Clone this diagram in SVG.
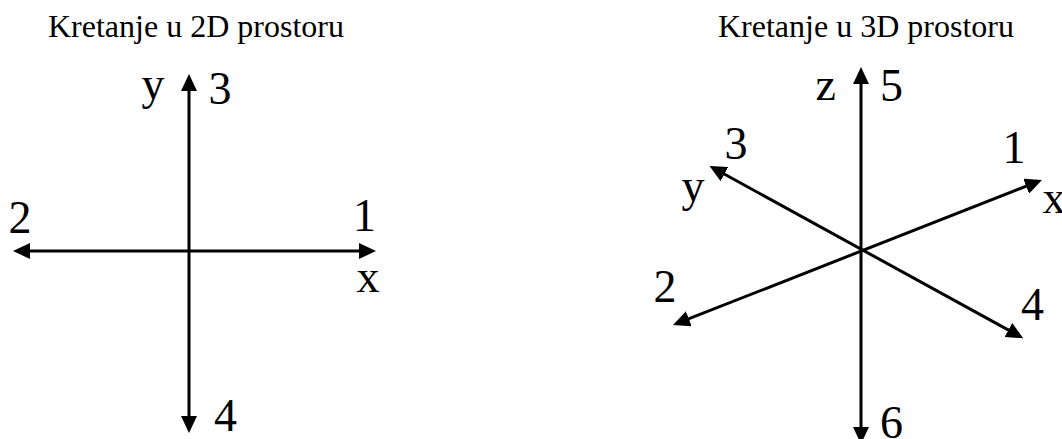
<svg xmlns="http://www.w3.org/2000/svg" width="1062" height="439" viewBox="0 0 1062 439">
  <style>
    .title { font-family: "Liberation Serif", "Times New Roman", serif; font-size: 32px; fill: #000; }
    .lbl { font-family: "Liberation Serif", "Times New Roman", serif; font-size: 46px; fill: #000; }
    .axis { stroke: #000; stroke-width: 3; fill: none; marker-start: url(#ah); marker-end: url(#ah); }
  </style>
  <defs>
    <marker id="ah" markerUnits="userSpaceOnUse" markerWidth="17" markerHeight="16" refX="8" refY="8" orient="auto-start-reverse" viewBox="0 0 17 16">
      <path d="M0,0 L17,8 L0,16 z" fill="#000"/>
    </marker>
  </defs>
  <rect width="1062" height="439" fill="#fff"/>

  <g id="titles">
    <text id="title-2d" class="title" x="48" y="37">Kretanje u 2D prostoru</text>
    <text id="title-3d" class="title" x="718" y="37">Kretanje u 3D prostoru</text>
  </g>

  <g id="connectors">
    <line id="axis2d-y" class="axis" x1="189" y1="424" x2="189" y2="83"/>
    <line id="axis2d-x" class="axis" x1="22" y1="251" x2="367" y2="251"/>
    <line id="axis3d-z" class="axis" x1="861" y1="435" x2="861" y2="76"/>
    <line id="axis3d-x" class="axis" x1="681.4" y1="321.7" x2="1033.6" y2="183.3"/>
    <line id="axis3d-y" class="axis" x1="1015.4" y1="333.9" x2="717.4" y2="170.3"/>
  </g>

  <g id="labels-2d">
    <text class="lbl" x="141.5" y="99">y</text>
    <text class="lbl" x="208.5" y="104">3</text>
    <text class="lbl" x="8.5" y="233">2</text>
    <text class="lbl" x="353" y="231">1</text>
    <text class="lbl" x="356.5" y="292">x</text>
    <text class="lbl" x="214" y="431">4</text>
  </g>

  <g id="labels-3d">
    <text class="lbl" x="815.5" y="100">z</text>
    <text class="lbl" x="880" y="101">5</text>
    <text class="lbl" x="724.5" y="159">3</text>
    <text class="lbl" x="681.5" y="201">y</text>
    <text class="lbl" x="1002.5" y="163">1</text>
    <text class="lbl" x="1042.5" y="213">x</text>
    <text class="lbl" x="653.5" y="302">2</text>
    <text class="lbl" x="1021" y="320">4</text>
    <text class="lbl" x="880" y="438">6</text>
  </g>
</svg>
